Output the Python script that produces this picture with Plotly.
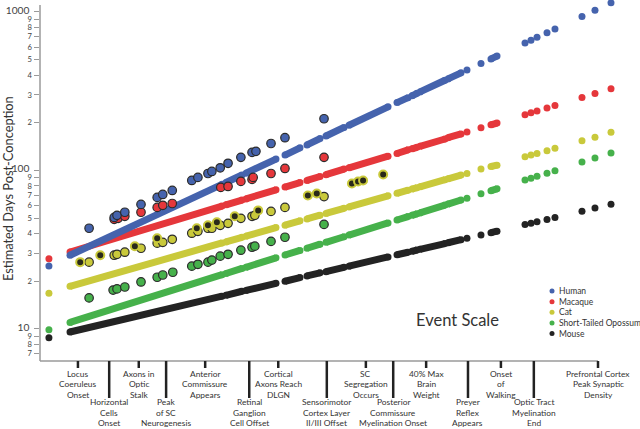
import plotly.graph_objects as go

# ---------------- data ----------------
species = ["Human", "Macaque", "Cat", "Short-Tailed Opossum", "Mouse"]
colors = ["#4563ad", "#e5373b", "#c9c93b", "#46b14b", "#232323"]

# event-scale positions of the predicted events (runs of closely spaced events)
event_runs = [[5.38, 32.62], [33.33, 36.20], [36.92, 42.29], [43.91, 46.59],
              [47.85, 50.18], [51.25, 54.48], [55.38, 62.37], [63.98, 65.95],
              [66.67, 67.56], [68.10, 72.58], [73.12, 75.45], [76.52], [79.03],
              [80.82, 81.90], [86.92], [87.99], [89.07], [90.86], [92.29],
              [97.13], [99.46], [102.33]]

pred_human = [[29.2, 81.8], [84.0, 93.6], [96.2, 118], [125, 139], [145, 159],
              [165, 187], [193, 252], [268, 288], [296, 307], [313, 371],
              [378, 413], [430], [473], [506, 527], [638], [664], [692], [740],
              [781], [938], [1025], [1142]]
pred_macaque = [[30.6, 59.6], [60.7, 65.1], [66.2, 75.5], [78.6, 83.9], [86.5, 91.6],
                [94.1, 102], [104, 123], [128, 135], [137, 140], [142, 158],
                [161, 170], [175], [186], [194, 199], [225], [231], [237], [248],
                [257], [289], [306], [328]]
pred_cat = [[18.6, 34.9], [35.4, 37.9], [38.5, 43.6], [45.2, 48.1], [49.5, 52.2],
            [53.6, 57.7], [58.9, 69.2], [71.8, 75.1], [76.4, 77.9], [78.9, 87.5],
            [88.6, 93.5], [95.8], [102], [106, 108], [122], [125], [128], [133],
            [138], [154], [162], [174]]
pred_opossum = [[11.0, 22.0], [22.4, 24.1], [24.5, 28.1], [29.3, 31.3], [32.3, 34.3],
                [35.2, 38.2], [39.1, 46.7], [48.7, 51.2], [52.1, 53.3], [54.0, 60.5],
                [61.4, 65.1], [66.9], [71.3], [74.6, 76.6], [87.0], [89.4], [91.9],
                [96.2], [99.7], [113], [120], [129]]
pred_mouse = [[9.57, 16.1], [16.3, 17.3], [17.5, 19.4], [20.0, 21.1], [21.6, 22.6],
              [23.0, 24.5], [24.9, 28.5], [29.4, 30.5], [30.9, 31.5], [31.8, 34.6],
              [35.0, 36.6], [37.3], [39.2], [40.5, 41.4], [45.6], [46.5], [47.5],
              [49.1], [50.5], [55.4], [57.9], [61.2]]

# isolated values at the start of the scale
anchor_x = 1.6
anchor_days = [25.0, 27.7, 16.8, 9.9, 8.8]

# empirical observations
emp_human_x = [8.8, 13.3, 13.8, 15.2, 18.1, 21.0, 22.0, 23.7, 27.2, 28.3, 30.1, 30.8,
               32.3, 33.7, 36.0, 38.0, 38.7, 41.4, 43.9, 50.9]
emp_human_y = [43.2, 50.6, 52.1, 54.5, 61.1, 67.6, 70.6, 74.8, 86.5, 90.4, 95.7, 98.6,
               104, 111, 121, 130, 132, 148, 161, 212]
emp_macaque_x = [13.3, 14.0, 15.2, 18.1, 21.0, 22.0, 23.7, 32.4, 33.7, 36.0, 38.0,
                 38.2, 41.4, 43.9, 50.9]
emp_macaque_y = [49.2, 49.9, 51.4, 54.5, 58.5, 60.3, 61.9, 78.2, 79.3, 85.3, 87.8,
                 90.4, 95.7, 103, 121]
emp_cat_x = [8.8, 13.3, 13.8, 15.2, 18.1, 21.0, 22.0, 23.7, 27.2, 28.3, 30.1, 30.8,
             32.3, 33.7, 36.0, 38.0, 38.5, 41.4, 43.9, 50.9]
emp_cat_y = [26.4, 29.2, 29.6, 30.5, 32.3, 34.8, 35.2, 36.8, 40.2, 41.3, 43.2, 43.2,
             45.1, 46.4, 49.9, 51.4, 52.1, 55.2, 58.5, 68.5]
emp_cat2_x = [7.2, 10.8, 17.0, 21.0, 28.1, 30.1, 31.7, 34.9, 39.1, 48.0, 49.6, 55.9,
              57.0, 57.9, 61.5]
emp_cat2_y = [26.4, 29.2, 33.3, 37.3, 43.2, 45.1, 47.1, 51.4, 56.0, 69.6, 71.6, 82.8,
              85.3, 86.5, 94.4]
emp_opossum_x = [8.8, 13.1, 13.8, 15.2, 18.1, 21.0, 22.0, 23.8, 27.2, 28.3, 30.1, 30.8,
                 32.3, 33.7, 36.0, 38.0, 38.5, 41.4, 43.9, 50.9]
emp_opossum_y = [15.7, 17.6, 17.9, 18.4, 19.8, 21.2, 21.9, 22.8, 24.9, 25.6, 26.4, 27.2,
                 28.8, 29.6, 31.4, 32.8, 33.3, 35.7, 37.9, 45.7]

# event-scale axis
tick_events = [6.8, 12.4, 17.7, 22.6, 29.6, 37.5, 42.7, 51.4, 58.4, 63.3, 69.2,
               76.7, 82.6, 88.5, 100.0]
tick_labels = ["Locus\nCoeruleus\nOnset", "Horizontal\nCells\nOnset",
               "Axons in\nOptic\nStalk", "Peak\nof SC\nNeurogenesis",
               "Anterior\nCommissure\nAppears", "Retinal\nGanglion\nCell Offset",
               "Cortical\nAxons Reach\nDLGN", "Sensorimotor\nCortex Layer\nII/III Offset",
               "SC\nSegregation\nOccurs", "Posterior\nCommissure\nMyelination Onset",
               "40% Max\nBrain\nWeight", "Preyer\nReflex\nAppears",
               "Onset\nof\nWalking", "Optic Tract\nMyelination\nEnd",
               "Prefrontal Cortex\nPeak Synaptic\nDensity"]

# ---------------- layout helpers ----------------
W, H = 640, 429
ML, MR, MT, MB = 40, 15, 0, 68
PW, PH = W - ML - MR, H - MT - MB
FONT = "Lato, 'Open Sans', sans-serif"
PX_PER_DECADE = 158.5


def px_to_paper_x(px):
    return (px - ML) / PW


def px_to_paper_y(py):
    return (H - MB - py) / PH


def join_runs(runs):
    out = []
    for i, r in enumerate(runs):
        if i:
            out.append(None)
        out.extend(r)
    return out


fig = go.Figure()

pred = [pred_human, pred_macaque, pred_cat, pred_opossum, pred_mouse]
emp = {0: (emp_human_x, emp_human_y), 1: (emp_macaque_x, emp_macaque_y),
       2: (emp_cat_x, emp_cat_y), 3: (emp_opossum_x, emp_opossum_y)}

# predicted series, drawn from mouse (bottom) to human (top)
for i in [4, 3, 2, 1, 0]:
    fig.add_trace(go.Scatter(
        x=join_runs(event_runs), y=join_runs(pred[i]), mode="lines+markers",
        line=dict(color=colors[i], width=7), marker=dict(color=colors[i], size=7),
        name=species[i], showlegend=False, cliponaxis=False, hoverinfo="skip"))
    fig.add_trace(go.Scatter(
        x=[anchor_x], y=[anchor_days[i]], mode="markers",
        marker=dict(color=colors[i], size=7), showlegend=False, cliponaxis=False))

# empirical observations
for i in [3, 2, 1, 0]:
    ex, ey = emp[i]
    fig.add_trace(go.Scatter(
        x=ex, y=ey, mode="markers", showlegend=False, cliponaxis=False,
        marker=dict(color=colors[i], size=8.5, line=dict(color="#2b2b2b", width=1.2))))
fig.add_trace(go.Scatter(
    x=emp_cat2_x, y=emp_cat2_y, mode="markers", showlegend=False, cliponaxis=False,
    marker=dict(color="#2a2a1a", size=8, line=dict(color=colors[2], width=2))))

shapes = []
annotations = []

# y axis line (starts a little below the top of the page)
shapes.append(dict(type="line", xref="paper", yref="paper", x0=0, x1=0,
                   y0=0, y1=px_to_paper_y(5), line=dict(color="#9a9a9a", width=1.5)))
# x axis line and ticks
shapes.append(dict(type="line", xref="x", yref="paper", x0=0, x1=100, y0=0, y1=0,
                   line=dict(color="#9a9a9a", width=1.5)))
for k, (te, lab) in enumerate(zip(tick_events, tick_labels)):
    long_tick = (k % 2 == 1)
    shapes.append(dict(type="line", xref="x", yref="paper", ysizemode="pixel", yanchor=0,
                       x0=te, x1=te, y0=0, y1=-37 if long_tick else -7,
                       line=dict(color="#222222", width=2.5)))
    start = 402 if long_tick else 373.5
    for j, line in enumerate(lab.split("\n")):
        annotations.append(dict(x=te, xref="x", y=px_to_paper_y(start + 10.5 * j), yref="paper",
                                text=line, showarrow=False, xanchor="center", yanchor="middle",
                                font=dict(family=FONT, size=8.4, color="#333333")))

annotations.append(dict(x=px_to_paper_x(457), xref="paper", y=px_to_paper_y(320), yref="paper",
                        text="Event Scale", showarrow=False, xanchor="center", yanchor="middle",
                        font=dict(family=FONT, size=16.5, color="#333333")))
annotations.append(dict(x=px_to_paper_x(8), xref="paper", y=px_to_paper_y(189), yref="paper",
                        text="Estimated Days Post-Conception", textangle=-90, showarrow=False,
                        xanchor="center", yanchor="middle",
                        font=dict(family=FONT, size=12.8, color="#333333")))

# legend
legend_rows = [291, 301.7, 312.3, 323, 333.5]
for i, py in enumerate(legend_rows):
    shapes.append(dict(type="circle", xref="paper", yref="paper", xsizemode="pixel",
                       ysizemode="pixel", xanchor=px_to_paper_x(552), yanchor=px_to_paper_y(py),
                       x0=-2.5, x1=2.5, y0=-2.5, y1=2.5,
                       fillcolor=colors[i], line=dict(width=0)))
    annotations.append(dict(x=px_to_paper_x(557), xref="paper", y=px_to_paper_y(py), yref="paper",
                            text=species[i], showarrow=False, xanchor="left", yanchor="middle",
                            font=dict(family=FONT, size=8.5, color="#333333")))

y_bottom = 0.798
y_top = y_bottom + PH / PX_PER_DECADE

fig.update_layout(
    width=W, height=H, margin=dict(l=ML, r=MR, t=MT, b=MB, autoexpand=False),
    paper_bgcolor="white", plot_bgcolor="white", showlegend=False,
    font=dict(family=FONT, color="#444444"),
    shapes=shapes, annotations=annotations,
    xaxis=dict(range=[0, PW / 5.58], visible=False, showgrid=False, zeroline=False),
    yaxis=dict(type="log", range=[y_bottom, y_top], dtick="D1", showgrid=False,
               zeroline=False, showline=False,
               ticks="outside", ticklen=5, tickcolor="#9a9a9a", tickwidth=1,
               tickfont=dict(family=FONT, size=10.2, color="#444444"), automargin=False),
)

fig.write_html("out.html", config={"displayModeBar": False},
               post_script="document.body.style.margin='0';document.body.style.overflow='hidden';")
